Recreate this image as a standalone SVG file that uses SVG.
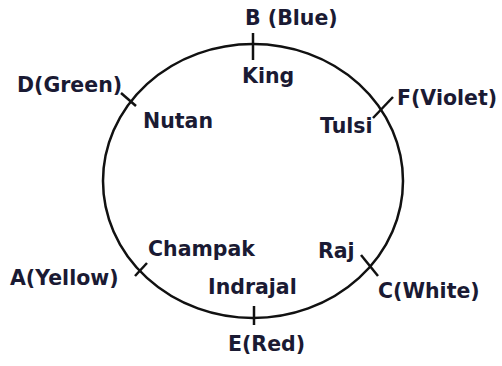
<svg xmlns="http://www.w3.org/2000/svg" width="502" height="366" viewBox="0 0 502 366">
<style>
.t{font-family:"DejaVu Sans","Liberation Sans",sans-serif;font-weight:bold;font-size:20.5px;fill:#1a1a33}
.k{stroke:#111;stroke-width:2.5;fill:none}
</style>
<rect width="502" height="366" fill="#fff"/>
<g id="connectors">
<ellipse class="k" cx="253" cy="181" rx="150" ry="137"/>
</g>
<g id="B"><line class="k" x1="253" y1="33" x2="253" y2="60"/><text class="t" x="245" y="25">B (Blue)</text><text class="t" x="242" y="83">King</text></g>
<g id="D"><line class="k" x1="121" y1="93" x2="136" y2="106"/><text class="t" x="17" y="92">D(Green)</text><text class="t" x="143" y="128">Nutan</text></g>
<g id="F"><line class="k" x1="393" y1="97" x2="373" y2="118"/><text class="t" x="397" y="105">F(Violet)</text><text class="t" x="320" y="133">Tulsi</text></g>
<g id="A"><line class="k" x1="135" y1="276" x2="147" y2="263"/><text class="t" x="10" y="285">A(Yellow)</text><text class="t" x="148" y="256">Champak</text></g>
<g id="C"><line class="k" x1="361" y1="255" x2="378" y2="276"/><text class="t" x="378" y="298">C(White)</text><text class="t" x="318" y="258">Raj</text></g>
<g id="E"><line class="k" x1="254" y1="306" x2="254" y2="325"/><text class="t" x="228" y="351">E(Red)</text><text class="t" x="208" y="294">Indrajal</text></g>
</svg>
